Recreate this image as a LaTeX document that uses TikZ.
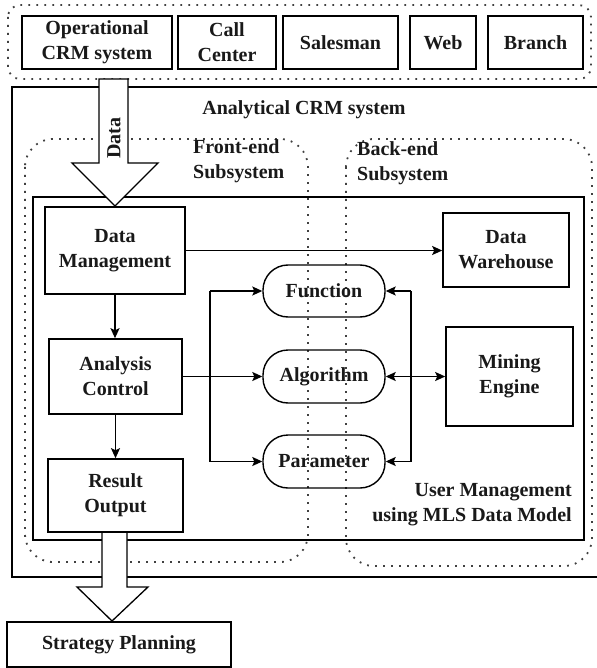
\documentclass[tikz,border=0pt]{standalone}
\usepackage{fontspec}
\setmainfont{Liberation Serif}
\usetikzlibrary{arrows.meta,calc}
\begin{document}
\begin{tikzpicture}[x=1pt,y=-1pt,
  every node/.style={font=\bfseries\fontsize{20}{25}\selectfont, inner sep=0pt, align=center, text=black!90},
  box/.style={draw, line width=1.6pt, rectangle},
  pill/.style={draw, line width=1.4pt, rounded corners=25pt, rectangle},
  dots/.style={draw=black!75, line width=1.8pt, dash pattern=on 1.8pt off 6.2pt},
  frame/.style={draw, line width=1.8pt},
  arr/.style={line width=1.4pt, -{Stealth[length=10pt,width=9pt,inset=2pt]}},
  dbl/.style={line width=1.4pt, {Stealth[length=10pt,width=9pt,inset=2pt]}-{Stealth[length=10pt,width=9pt,inset=2pt]}},
  bus/.style={line width=1.4pt},
  bigarrow/.style={draw, fill=white, line width=1.3pt}]
\useasboundingbox (0,0) rectangle (596,668);

% top group of sources
\draw[dots, rounded corners=12pt] (8,5) rectangle (591,79);
\node[box, minimum width=150, minimum height=53] (op) at (97,42.5) {Operational\\CRM system};
\node[box, minimum width=98, minimum height=53] (call) at (227,42.5) {Call\\Center};
\node[box, minimum width=115, minimum height=53] (sales) at (340.5,42.5) {Salesman};
\node[box, minimum width=66, minimum height=53] (web) at (443,42.5) {Web};
\node[box, minimum width=95, minimum height=53] (branch) at (535.5,42.5) {Branch};

% analytical CRM frame
\draw[frame] (598,87) -- (12,87) -- (12,577) -- (598,577);
\node (acrm) at (304,110) {Analytical CRM system};

% subsystem regions
\draw[dots, rounded corners=28pt] (25,139) rectangle (308,562);
\draw[dots, rounded corners=28pt] (346,139) rectangle (592,566);
\node[anchor=west, align=left] (fe) at (193,161) {Front-end\\Subsystem};
\node[anchor=west, align=left] (be) at (357,163) {Back-end\\Subsystem};

% inner user management box
\draw[line width=1.6pt] (33,197) rectangle (584,540);
\node[anchor=east, align=right] (um) at (572,504.5) {User Management\\using MLS Data Model};

% front-end boxes
\node[box, minimum width=140, minimum height=87] (dm) at (115,250.5) {Data\\Management};
\node[box, minimum width=133, minimum height=75] (ac) at (115.5,376.5) {Analysis\\Control};
\node[box, minimum width=135, minimum height=73] (ro) at (115.5,495.5) {Result\\Output};

% back-end boxes
\node[box, minimum width=126, minimum height=74] (dw) at (506,250) {Data\\Warehouse};
\node[box, minimum width=127, minimum height=99] (me) at (509.5,376.5) {Mining\\Engine};

% pills
\node[pill, minimum width=122, minimum height=52] (fn) at (324,291) {Function};
\node[pill, minimum width=122, minimum height=53] (alg) at (324,376.5) {Algorithm};
\node[pill, minimum width=122, minimum height=53] (par) at (324,461.5) {Parameter};

% connectors
\draw[arr] (dm.south) -- (dm.south |- ac.north);
\draw[arr] (ac.south) -- (ac.south |- ro.north);
\draw[arr] (dm.east) -- (dm.east -| dw.west);
\draw[arr] (ac.east) -- (alg.west);
\coordinate (lb) at (210,376.5);
\coordinate (rb) at (411,376.5);
\draw[bus] (lb |- fn.west) -- (lb |- par.west);
\draw[arr] (lb |- fn.west) -- (fn.west);
\draw[arr] (lb |- par.west) -- (par.west);
\draw[bus] (rb |- fn.east) -- (rb |- par.east);
\draw[arr] (rb |- fn.east) -- (fn.east);
\draw[arr] (rb |- par.east) -- (par.east);
\draw[dbl] (alg.east) -- (me.west);

% data input arrow
\draw[bigarrow] (99,79) -- (128,79) -- (128,163) -- (158,163) -- (115,206) -- (72,163) -- (99,163) -- cycle;
\node[rotate=90] (datalbl) at (114,138) {Data};

% strategy planning
\node[box, minimum width=224, minimum height=45] (sp) at (119,644.5) {Strategy Planning};
\draw[bigarrow] (102,533) -- (102,587) -- (77,587) -- (112,621) -- (148,587) -- (127,587) -- (127,533);
\end{tikzpicture}
\end{document}
